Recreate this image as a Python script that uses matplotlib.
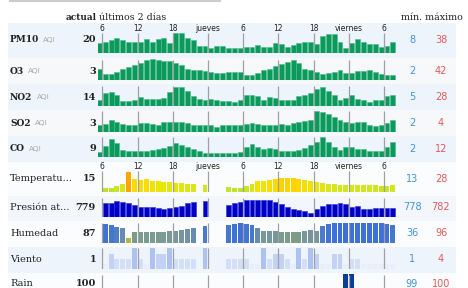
import numpy as np
import matplotlib
matplotlib.use('Agg')
import matplotlib.pyplot as plt
from matplotlib.colors import LinearSegmentedColormap, Normalize

nan = np.nan
W, H = 468, 288

# hours since 0h of the first day, one bar per hour (5h .. 55h)
hours = np.arange(5, 56)
tick_hours = [6, 12, 18, 24, 30, 36, 42, 48, 54]
tick_labels = ['6', '12', '18', 'jueves', '6', '12', '18', 'viernes', '6']

pm10 = [18, 21, 24, 28, 25, 21, 21, 21, 26, 21,
        26, 29, 18, 37, 38, 29, 25, 13, 13, 10,
        13, 13, 10, 9, 9, 12, 12, 15, 12, 12,
        18, 17, 11, 15, 18, 21, 21, 17, 31, 35,
        35, 21, 10, 18, 26, 21, 17, 17, 12, 13,
        21]
o3 = [23, 12, 12, 17, 23, 27, 30, 35, 40, 42,
      40, 39, 39, 35, 30, 23, 20, 20, 19, 17,
      15, 15, 17, 17, 17, 11, 11, 15, 20, 22,
      28, 33, 37, 40, 35, 23, 21, 17, 12, 15,
      17, 20, 15, 15, 19, 19, 21, 17, 13, 10,
      10]
no2 = [8, 18, 20, 16, 7, 7, 8, 13, 10, 10,
       10, 12, 20, 27, 27, 21, 15, 10, 8, 10,
       8, 7, 7, 6, 8, 16, 16, 14, 9, 13,
       11, 8, 8, 8, 14, 16, 19, 24, 28, 21,
       16, 8, 12, 16, 10, 8, 6, 8, 8, 14,
       16]
so2 = [1.3, 1.4, 2.3, 1.8, 1.4, 1.3, 1.3, 1.6, 1.6, 1.4,
       1.2, 1.9, 1.8, 1.8, 1.8, 1.6, 1.3, 1.2, 1.3, 1.2,
       1.0, 1.2, 1.3, 1.3, 1.2, 1.4, 1.6, 1.5, 1.3, 1.3,
       1.3, 1.4, 1.3, 1.6, 1.8, 2.0, 2.3, 4.0, 3.9, 3.4,
       2.9, 2.3, 1.8, 1.7, 1.8, 1.9, 1.3, 1.1, 1.2, 1.6,
       2.3]
co = [3.0, 6.5, 10.6, 8.5, 4.1, 3.7, 3.5, 3.5, 3.7, 4.1,
      4.7, 5.1, 6.5, 8.1, 7.1, 6.1, 4.7, 3.4, 2.6, 2.6,
      2.2, 2.2, 2.2, 2.6, 3.2, 6.1, 7.5, 6.1, 4.7, 5.1,
      4.5, 3.5, 3.5, 3.5, 4.1, 5.5, 7.1, 9.1, 12.0, 8.7,
      6.1, 4.1, 6.1, 6.1, 4.7, 4.7, 3.5, 3.5, 3.5, 6.1,
      9.1]
temperature = [nan, 13, 13, 14.3, 16.8, 28, 21, 20, 21, 19.4,
               19.1, 18.4, 18.4, 17.8, 17.5, 16.8, 16.8, nan, 15.2, nan,
               nan, nan, 13.6, 13, 13, 14.3, 16.2, 19.1, 19.1, 20.7,
               21.6, 22.6, 22.6, 22.6, 21.6, 20, 19.4, 18.4, 17.5, 16.8,
               16.2, 15.9, 15.9, 15.9, 15.2, 15.2, 15.2, 15.2, 14.3, 14.3,
               15.2]
pressure = [nan, 780.9, 781.1, 781.7, 781.5, 780.9, 780.4, 779.9, 779.7, 779.7,
            779.4, 779.2, 779.4, 779.9, 780.2, 780.9, 781.5, nan, 781.7, nan,
            nan, nan, 780.5, 781.1, 781.5, 782, 782, 782, 782, 782,
            781.5, 780.7, 779.9, 779.1, 778.8, 778.5, 778, 779.1, 780.2, 780.6,
            780.7, 780.9, 780.7, 779.9, 780.1, 779.1, 779.1, 779.4, 779.4, 779.4,
            779.4]
humidity = [nan, 93, 89, 83, 76, 36, 60, 63, 63, 63,
            63, 63, 65, 65, 69, 73, 76, nan, 85, nan,
            nan, nan, 89, 93, 96, 92, 89, 76, 67, 67,
            67, 63, 60, 60, 60, 67, 69, 67, 85, 93,
            96, 96, 96, 96, 96, 96, 96, 96, 96, 93,
            89]
wind = [nan, 1, 3, 2, 2, 2, 4, 2, 1, 4,
        3, 3, 4, 2, 2, 2, 2, nan, 4, nan,
        nan, nan, 2, 2, 2, 2, 1, 1, 4, 2,
        3, 3, 2, 1, 4, 2, 4, 3, 1, 1,
        3, 3, 1, 2, 2, 1, 1, 1, 1, 1,
        1]
rain_hours = [47, 48]
rain = [100, 100]

names = ['PM10', 'O3', 'NO2', 'SO2', 'CO', 'Temperatu...', 'Presión at...',
         'Humedad', 'Viento', 'Rain']
current = ['20', '3', '14', '3', '9', '15', '779', '87', '1', '100']
mins = ['8', '2', '5', '2', '2', '13', '778', '36', '1', '99']
maxs = ['38', '42', '28', '4', '12', '28', '782', '96', '4', '100']

# layout in pixels: (label y, baseline y, max bar height, tick top y, row top, row bottom, bg)
layout = [
    (40, 53.3, 20.7, 33, 23, 58, '#edf4fc'),
    (71, 80, 21, 59.5, 58, 84, '#f6f8fa'),
    (97, 106, 19.5, 86, 84, 110, '#edf4fc'),
    (123, 131.7, 20.7, 111, 110, 136, '#f6f8fa'),
    (148.5, 157, 20.3, 137, 136, 162, '#edf4fc'),
    (178.5, 192, 20, 171, 162, 196, '#fbfcfd'),
    (207, 217.3, 17.3, 197.5, 196, 221, '#f3f7fc'),
    (233.5, 243.3, 20, 223, 221, 247, '#fbfcfd'),
    (259.5, 269.3, 21, 248, 247, 273, '#eef4fb'),
    (284, 304, 30, 275, 273, 300, '#fbfcfd'),
]

temp_cmap = LinearSegmentedColormap.from_list('t', [(0, '#c2e22a'), (0.2, '#d6e61c'),
                                                   (0.4, '#eee500'), (0.6, '#ffd700'), (1, '#ffa500')])
hum_cmap = LinearSegmentedColormap.from_list('h', [(0, '#b8b640'), (0.4, '#7d9c88'),
                                                  (0.6, '#7593a6'), (0.8, '#4d7cc8'), (1, '#3d70d8')])
wind_cmap = LinearSegmentedColormap.from_list('w', ['#e8eefa', '#d3def7', '#c2d1f4', '#adc2f0'])

plt.rcParams['font.family'] = 'DejaVu Serif'
fig = plt.figure(figsize=(W / 100, H / 100), dpi=100)
bg = fig.add_axes([0, 0, 1, 1])
bg.set_xlim(0, W)
bg.set_ylim(H, 0)
bg.axis('off')

bg.plot([10, 220], [1, 1], color='#cccccc', lw=1.5)
bg.text(97, 17, 'actual', ha='right', va='center', fontsize=6.5, fontweight='bold', color='#222222')
bg.text(99, 17, 'últimos 2 días', ha='left', va='center', fontsize=6.8, color='#222222')
bg.text(401, 17, 'mín. máximo', ha='left', va='center', fontsize=6.8, color='#222222')

x0, x1 = 98.0, 395.8
h0, h1 = 5.27, 56.0

series = [pm10, o3, no2, so2, co, temperature, pressure, humidity, wind, rain]
bases = [0, 0, 0, 0, 0, 8.85, 776.5, 16, 0, 0]

for i, (ly, base_y, bar_px, tick_top, r0, r1, bgc) in enumerate(layout):
    bg.fill_between([8, 456], r0, r1, color=bgc, lw=0, zorder=0)
    if i < 5:
        t = bg.text(10, ly, names[i], ha='left', va='center', fontsize=6.5,
                    fontweight='bold', color='#222222')
        bg.annotate('AQI', xy=(1, 0.5), xycoords=t, xytext=(3, 0), textcoords='offset points',
                    ha='left', va='center', fontsize=5.3, color='#aaaaaa', family='DejaVu Sans')
    else:
        bg.text(10, ly, names[i], ha='left', va='center', fontsize=7, color='#222222')
    bg.text(96, ly, current[i], ha='right', va='center', fontsize=7, fontweight='bold', color='#222222')
    bg.text(412, ly, mins[i], ha='center', va='center', fontsize=7, color='#3d95dc', family='DejaVu Sans')
    bg.text(441, ly, maxs[i], ha='center', va='center', fontsize=7, color='#e05a5a', family='DejaVu Sans')

    vals = np.array(series[i], dtype=float)
    xs = hours if i != 9 else np.array(rain_hours)
    base = bases[i]
    vmax = np.nanmax(vals)
    scale = (vmax - base) / bar_px
    top = min(tick_top, base_y - bar_px) - 1
    ax = fig.add_axes([x0 / W, 1 - base_y / H, (x1 - x0) / W, (base_y - top) / H])
    ax.set_xlim(h0, h1)
    ax.set_ylim(base, base + (base_y - top) * scale)
    ax.axis('off')
    ax.patch.set_alpha(0)

    if i < 5:
        colors = '#0a9a5c'
        edge = '#4cbb88'
    elif i == 5:
        colors = temp_cmap(Normalize(13, 28)(vals))
        edge = 'none'
    elif i == 6:
        colors = '#0000c4'
        edge = '#2d2de0'
    elif i == 7:
        colors = hum_cmap(Normalize(36, 96)(vals))
        edge = 'none'
    elif i == 8:
        colors = wind_cmap(Normalize(1, 4)(vals))
        edge = 'none'
    else:
        colors = '#0b3d9c'
        edge = 'none'
    ax.bar(xs + 0.5, vals - base, bottom=base, width=0.84, color=colors,
           edgecolor=edge, linewidth=0.4, zorder=2)
    ax.vlines(tick_hours, base, base + (base_y - tick_top) * scale, color='#a0a0a0', lw=0.9, zorder=3)

    if i in (0, 5):
        for th, tl in zip(tick_hours, tick_labels):
            xp = x0 + (th - h0) / (h1 - h0) * (x1 - x0)
            bg.text(xp, tick_top - 4.5, tl, ha='center', va='center', fontsize=5.5,
                    color='#222222', family='DejaVu Sans')

fig.savefig('out.png', dpi=100)
